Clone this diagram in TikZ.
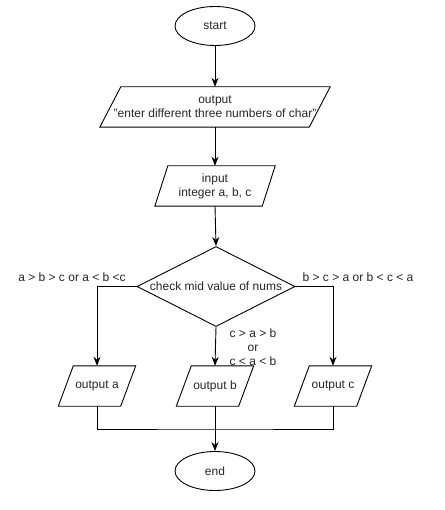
\documentclass[tikz,border=0pt]{standalone}
\usepackage{fontspec}
\setmainfont{Liberation Sans}
\usetikzlibrary{shapes.geometric,arrows.meta}
\newcommand{\parabox}[2]{\draw[shapeline] ([xshift=#2]#1.north west) -- (#1.north east) -- ([xshift=-#2]#1.south east) -- (#1.south west) -- cycle;}
\begin{document}
\begin{tikzpicture}[x=1pt,y=-1pt,
  every node/.style={font=\fontsize{12}{14}\selectfont, text=black!85},
  shapeline/.style={draw=black, line width=0.9pt},
  oval/.style={ellipse, shapeline, minimum width=80pt, minimum height=39pt, inner sep=0pt},
  iobox/.style={rectangle, minimum height=40pt, inner sep=0pt, align=center},
  decision/.style={diamond, shapeline, minimum width=158pt, minimum height=80pt, inner sep=0pt, aspect=2},
  lbl/.style={inner sep=0pt, align=center},
  arr/.style={draw=black, line width=0.9pt, -{Stealth[length=9pt,width=7pt]}},
  conn/.style={draw=black, line width=0.9pt}]
\useasboundingbox (0,0) rectangle (444,510);
\node[oval] (start) at (215,26) {start};
\node[iobox, minimum width=230pt] (out1) at (215,107) {output\\"enter different three numbers of char"};
\node[iobox, minimum width=120pt] (inp) at (215,186) {input\\integer a, b, c};
\node[decision] (chk) at (216,286.5) {check mid value of nums};
\node[iobox, minimum width=77pt] (outA) at (97,386) {output a};
\node[iobox, minimum width=77pt] (outB) at (215,386) {output b};
\node[iobox, minimum width=77pt] (outC) at (333,386) {output c};
\node[oval] (stop) at (215,471) {end};
\parabox{out1}{21pt}
\parabox{inp}{13pt}
\parabox{outA}{15pt}
\parabox{outB}{15pt}
\parabox{outC}{15pt}
\node[lbl] (lA) at (72,277) {a > b > c or a < b <c};
\node[lbl] (lC) at (358,277) {b > c > a or b < c < a};
\node[lbl] (lB) at (253,347) {c > a > b\\or\\c < a < b};
\coordinate (m) at (215,429);
\draw[arr] (start.south) -- (out1.north);
\draw[arr] (out1.south) -- (inp.north);
\draw[arr] (inp.south) -- (chk.north);
\draw[arr] (chk.west) -| (outA.north);
\draw[arr] (chk.east) -| (outC.north);
\draw[arr] (chk.south) -- (outB.north);
\draw[conn] (outA.south) |- (m) -| (outC.south);
\draw[arr] (outB.south) -- (stop.north);
\end{tikzpicture}
\end{document}
